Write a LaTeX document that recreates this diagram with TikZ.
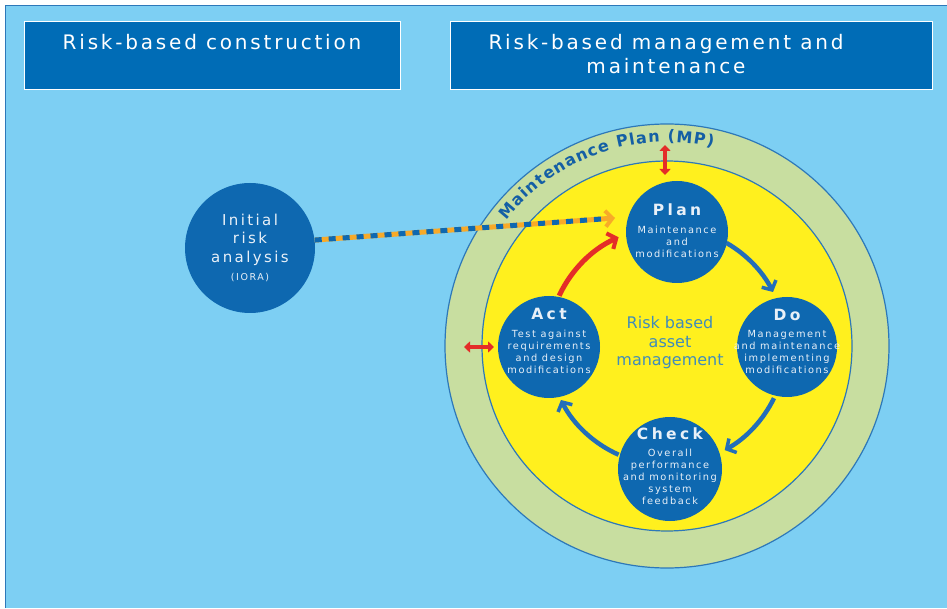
\documentclass[tikz,border=0pt]{standalone}
\usepackage{fontspec}
\setmainfont{DejaVu Sans}
\usetikzlibrary{arrows.meta,calc,decorations.text}
\newfontfamily\ttlfont[LetterSpace=14]{DejaVu Sans}
\newfontfamily\lsfont[LetterSpace=16]{DejaVu Sans}
\newfontfamily\hdfont[LetterSpace=22]{DejaVu Sans}
\definecolor{bgblue}{RGB}{125,207,243}
\definecolor{boxblue}{RGB}{0,108,182}
\definecolor{circblue}{RGB}{14,104,176}
\definecolor{ringgreen}{RGB}{200,222,160}
\definecolor{yell}{RGB}{255,240,30}
\definecolor{edgeblue}{RGB}{45,120,185}
\definecolor{arrblue}{RGB}{35,110,185}
\definecolor{orangeA}{RGB}{248,170,40}
\definecolor{redA}{RGB}{228,45,40}
\definecolor{midblue}{RGB}{65,140,185}
\definecolor{mpblue}{RGB}{20,95,165}
\definecolor{txtwhite}{RGB}{232,240,248}
\begin{document}
\begin{tikzpicture}[x=1pt,y=1pt,
  titlebox/.style={rectangle, fill=boxblue, draw=white, line width=1pt, inner sep=0pt},
  ttl/.style={text=white, font=\ttlfont\fontsize{20}{24}\selectfont, align=center, inner sep=0pt},
  stage/.style={circle, fill=circblue, inner sep=0pt, minimum size=#1},
  stagetxt/.style={text=txtwhite, align=center, inner sep=0pt, font=\lsfont\fontsize{9.8}{12}\selectfont},
  cycarrow/.style={arrblue, line width=4.5pt, -{Straight Barb[length=7pt,width=16pt,line width=3.5pt]}},
  redarrow/.style={redA, line width=5pt, -{Straight Barb[length=7pt,width=17pt,line width=4pt]}},
  reddouble/.style={redA, line width=3.4pt, {Triangle[length=6pt,width=11pt]}-{Triangle[length=6pt,width=11pt]}}
]
\useasboundingbox (0,0) rectangle (947,608);
\fill[white] (0,0) rectangle (947,608);
\fill[bgblue] (5,0) rectangle (947,603);
\draw[edgeblue, line width=1.5pt] (5.5,0) -- (5.5,602.5) -- (947,602.5);

% title boxes
\node[titlebox, minimum width=376, minimum height=68] (b1) at (212,552) {};
\node[titlebox, minimum width=482, minimum height=68] (b2) at (691,552) {};
\node[ttl] (t1) at (212,566) {Risk-based construction};
\node[ttl] (t2) at (666,554) {Risk-based management and\\maintenance};

% rings
\coordinate (cyc) at (667,262);
\node[circle, minimum size=444, inner sep=0pt, fill=ringgreen, draw=edgeblue, line width=1.2pt] (ring) at (cyc) {};
\node[circle, minimum size=370, inner sep=0pt, fill=yell, draw=edgeblue, line width=1.2pt] (core) at (cyc) {};

% ring text
\path[decorate, decoration={text along path, text align=fit to path,
  text={|\bfseries\fontsize{16}{16}\selectfont\color{mpblue}|Maintenance Plan (MP)}}]
  ($(cyc)+(142:204)$) arc[start angle=142, end angle=77, radius=204];

% IORA
\node[stage=130] (iora) at (250,360) {};
\node[text=txtwhite, align=center, inner sep=0pt, font=\lsfont\fontsize{15}{18.5}\selectfont] (ioratxt) at (250,360)
  {Initial\\risk\\analysis\\{\fontsize{9.5}{11}\selectfont(IORA)}};

% stages
\node[stage=102] (plan) at (677,376) {};
\node[stage=100] (do) at (787,261) {};
\node[stage=104] (check) at (670,139) {};
\node[stage=102] (act) at (549,261) {};

\node[stagetxt] (plantxt) at (677,377)
  {{\hdfont\bfseries\fontsize{15.5}{15}\selectfont Plan}\\[6pt]Maintenance\\and\\modifications};
\node[stagetxt] (dotxt) at (787,267)
  {{\hdfont\bfseries\fontsize{15.5}{15}\selectfont Do}\\[5pt]Management\\and maintenance\\implementing\\modifications};
\node[stagetxt] (checktxt) at (670,142)
  {{\hdfont\bfseries\fontsize{15.5}{15}\selectfont Check}\\[5pt]Overall\\performance\\and monitoring\\system\\feedback};
\node[stagetxt] (acttxt) at (549,267)
  {{\hdfont\bfseries\fontsize{15.5}{15}\selectfont Act}\\[6pt]Test against\\requirements\\and design\\modifications};

% centre text
\node[text=midblue, align=center, inner sep=0pt, font=\fontsize{16}{18.5}\selectfont] (centre) at (670,265)
  {Risk based\\asset\\management};

% cycle arrows
\draw[cycarrow] ($(cyc)+(60:119)$) arc[start angle=60, end angle=27, radius=119];
\draw[cycarrow] ($(cyc)+(-26:119)$) arc[start angle=-26, end angle=-61, radius=119];
\draw[cycarrow] ($(cyc)+(-114:119)$) arc[start angle=-114, end angle=-153, radius=119];
\draw[redarrow] ($(cyc)+(155:119)$) arc[start angle=155, end angle=114, radius=119];

% dashed arrow from IORA
\coordinate (dtip) at (615,390);
\draw[orangeA, line width=5pt, -{Straight Barb[length=7pt,width=16pt,line width=4pt]}] (iora.7) -- (dtip);
\draw[circblue, line width=5pt, dash pattern=on 7pt off 7pt, shorten >=14pt] (iora.7) -- (dtip);

% red double arrows
\coordinate (rv1) at (665,463);
\coordinate (rv2) at (665,433);
\draw[reddouble] (rv1) -- (rv2);
\coordinate (rh1) at (464,261);
\coordinate (rh2) at (494,261);
\draw[reddouble] (rh1) -- (rh2);
\end{tikzpicture}
\end{document}
